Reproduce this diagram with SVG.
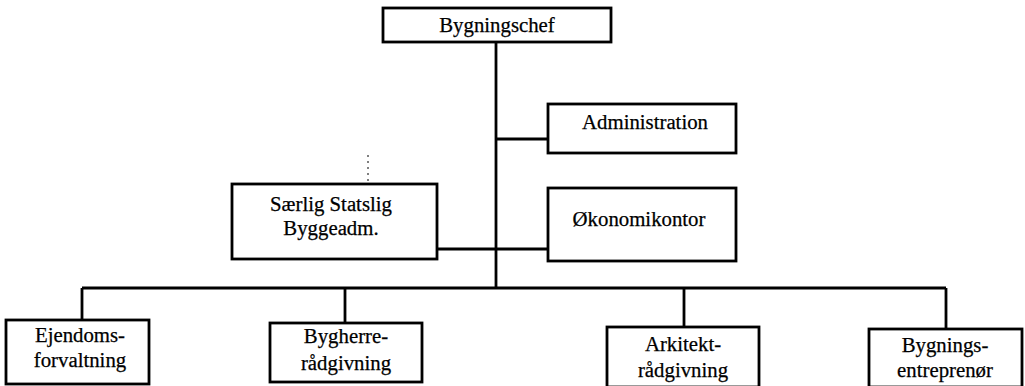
<svg xmlns="http://www.w3.org/2000/svg" width="1025" height="386" viewBox="0 0 1025 386">
<style>
.box{fill:#fff;stroke:#000;stroke-width:2.8}
.ln{fill:none;stroke:#000;stroke-width:2.8}
text{font-family:"Liberation Serif","Times New Roman",serif;font-size:20.8px;fill:#000;stroke:#000;stroke-width:0.25;text-anchor:middle}
</style>
<rect width="1025" height="386" fill="#fff"/>
<g id="connectors">
<path class="ln" d="M496 42 V288"/>
<path class="ln" d="M496 139 H548"/>
<path class="ln" d="M437 249 H548"/>
<path class="ln" d="M82 288 H946"/>
<path class="ln" d="M82 288 V320"/>
<path class="ln" d="M345 288 V323"/>
<path class="ln" d="M684 288 V327"/>
<path class="ln" d="M946 288 V329"/>
<path d="M368 155 V183" fill="none" stroke="#000" stroke-width="1" stroke-dasharray="2 4"/>
</g>
<g id="bygningschef">
<rect class="box" x="383" y="8" width="228" height="34"/>
<text x="497" y="32">Bygningschef</text>
</g>
<g id="administration">
<rect class="box" x="548" y="104" width="188" height="49"/>
<text x="645" y="129">Administration</text>
</g>
<g id="saerlig">
<rect class="box" x="232" y="184" width="205" height="75"/>
<text x="331" y="211">Særlig Statslig</text>
<text x="331" y="235">Byggeadm.</text>
</g>
<g id="okonomi">
<rect class="box" x="548" y="188" width="188" height="73"/>
<text x="639" y="226">Økonomikontor</text>
</g>
<g id="ejendom">
<rect class="box" x="6" y="320" width="143" height="64"/>
<text x="80" y="342">Ejendoms-</text>
<text x="80" y="367">forvaltning</text>
</g>
<g id="bygherre">
<rect class="box" x="270" y="323" width="152" height="59"/>
<text x="346" y="343">Bygherre-</text>
<text x="346" y="370">rådgivning</text>
</g>
<g id="arkitekt">
<rect class="box" x="607" y="327" width="152" height="60"/>
<text x="683" y="351">Arkitekt-</text>
<text x="683" y="377">rådgivning</text>
</g>
<g id="bygnings">
<rect class="box" x="869" y="329" width="153" height="58"/>
<text x="945" y="352">Bygnings-</text>
<text x="945" y="377">entreprenør</text>
</g>
</svg>
